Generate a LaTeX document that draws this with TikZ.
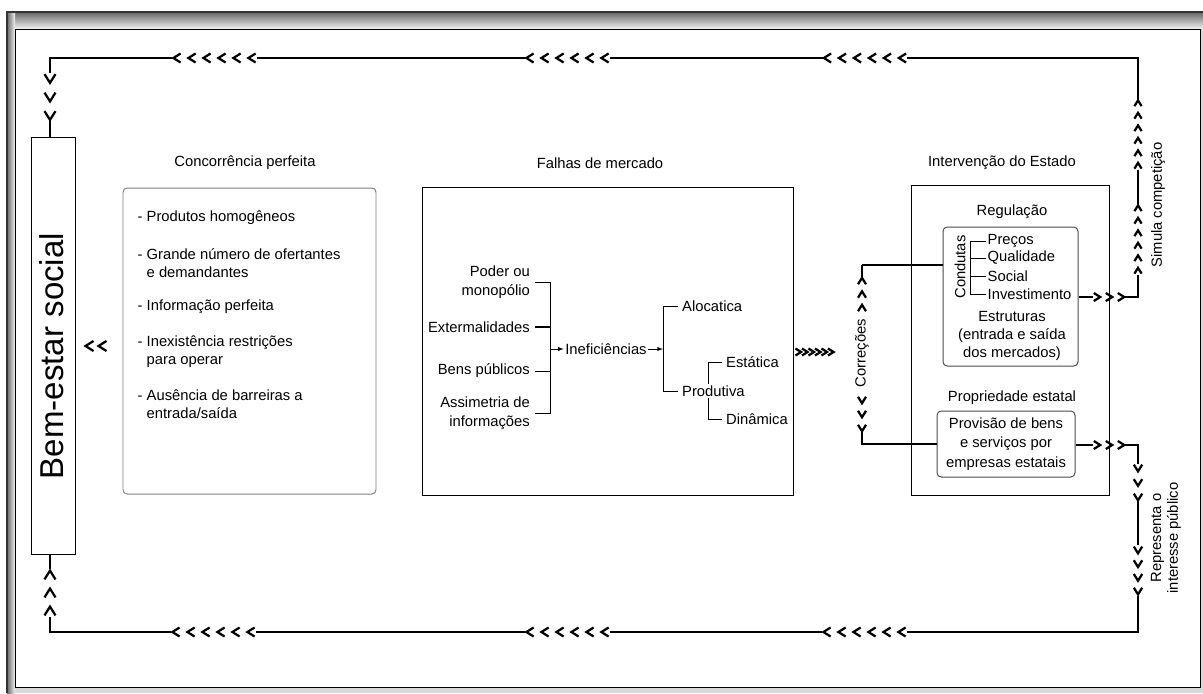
\documentclass[tikz,border=0pt]{standalone}
\usepackage{fontspec}
\setmainfont{Liberation Sans}
\tikzset{>=latex}
\newcommand{\pxu}{0.025cm}
\newcommand{\txtfont}{\fontsize{10.5}{12.8}\selectfont}
\tikzset{
    box/.style={draw, line width=0.7pt, inner sep=0pt},
    rbox/.style={box, draw=black!70, rounded corners=3pt},
    lbl/.style={inner sep=1pt, font=\txtfont},
    fl/.style={lbl, align=right, anchor=east, inner xsep=3.5pt,
        font=\fontsize{10.5}{13.7}\selectfont},
    fr/.style={lbl, anchor=west, inner xsep=2.8pt},
    chev/.style={line width=1.6pt, line join=miter},
    grp/.style={inner sep=0pt},
    link/.style={line width=0.8pt},
}
% row of chevrons: name, x, y, count, pitch, direction (1 = > , -1 = <), half size
\newcommand{\hchevs}[7]{
    \node[grp, minimum width={((#4-1)*#5+2*#7)*\pxu}, minimum height={2*#7*\pxu}] (#1) at (#2,#3) {};
    \foreach \k in {1,...,#4}
        \draw[chev] ({#2+(\k-(#4+1)/2)*#5-(#6)*0.8*#7},{#3-#7})
            -- ++({(#6)*1.6*#7},#7) -- ++({-(#6)*1.6*#7},#7);
}
% column of chevrons: name, x, y, count, pitch, direction (1 = v , -1 = ^), half size
\newcommand{\vchevs}[7]{
    \node[grp, minimum width={2*#7*\pxu}, minimum height={((#4-1)*#5+2*#7)*\pxu}] (#1) at (#2,#3) {};
    \foreach \k in {1,...,#4}
        \draw[chev] ({#2-#7},{#3+(\k-(#4+1)/2)*#5-(#6)*0.8*#7})
            -- ++(#7,{(#6)*1.6*#7}) -- ++(#7,{-(#6)*1.6*#7});
}

\begin{document}
\begin{tikzpicture}[x=\pxu, y=-\pxu]
    \useasboundingbox (0,0) rectangle (1203,693);
    % frame
    \shade[top color=black!60, bottom color=black!5] (7,12) rectangle (1203,29);
    \shade[left color=black!60, right color=black!5] (7,12) rectangle (15,693);
    \fill[black!15] (15,687) rectangle (1203,693);
    \fill[black!15] (1200,29) rectangle (1203,687);
    \draw[black!80, line width=1.2pt] (7,693) -- (7,12) -- (1203,12);
    \draw[line width=0.7pt, fill=white] (15,29) rectangle (1200,687);

    % bem-estar
    \node[box, minimum width=44*\pxu, minimum height=417*\pxu] (bem) at (53,345.5) {};
    \node[rotate=90, inner sep=0pt, font=\fontsize{23.5}{28}\selectfont] (bemtxt) at (52,356) {Bem-estar social};
    \hchevs{lt}{96}{346}{2}{13}{-1}{5}

    % concorrencia perfeita
    \node[lbl] (conct) at (245,163) {Concorrência perfeita};
    \node[rbox, draw=black!50, minimum width=253*\pxu, minimum height=306*\pxu] (conc) at (249.5,341) {};
    \node[lbl, anchor=west] (c1) at (136,218) {- Produtos homogêneos};
    \node[lbl, anchor=west, align=left] (c2) at (136,263) {- Grande número de ofertantes\\\hspace*{0.611em}e demandantes};
    \node[lbl, anchor=west] (c3) at (136,307) {- Informação perfeita};
    \node[lbl, anchor=west, align=left] (c4) at (136,352) {- Inexistência restrições\\\hspace*{0.611em}para operar};
    \node[lbl, anchor=west, align=left] (c5) at (136,404.5) {- Ausência de barreiras a\\\hspace*{0.611em}entrada/saída};

    % falhas de mercado
    \node[lbl] (falt) at (600,163) {Falhas de mercado};
    \node[box, minimum width=371*\pxu, minimum height=308*\pxu] (falhas) at (607.5,341) {};
    \node[fl] (poder) at (535,282) {Poder ou\\monopólio};
    \node[fl] (ext) at (535,327) {Extermalidades};
    \node[fl] (bens) at (535,371) {Bens públicos};
    \node[fl] (assim) at (535,413) {Assimetria de\\informações};
    \coordinate (fb) at (550,349);
    \draw (poder.east) -| (fb |- assim.east) -- (assim.east);
    \draw[line width=1.4pt] (ext.east) -- (ext.east -| fb);
    \draw (bens.east) -- (bens.east -| fb);
    \node[lbl] (inef) at (606,349) {Ineficiências};
    \draw[->] (fb) -- (inef.west);
    \coordinate (sb) at (663,349);
    \draw[->] (inef.east) -- (sb);
    \node[fr] (aloc) at (678,306) {Alocatica};
    \node[fr] (prod) at (678,391) {Produtiva};
    \draw (aloc.west) -| (sb |- prod.west) -- (prod.west);
    \coordinate (tb) at (708,391);
    \node[fr] (est) at (722,362) {Estática};
    \node[fr] (din) at (722,419) {Dinâmica};
    \draw (prod.north -| tb) |- (est.west);
    \draw (prod.south -| tb) |- (din.west);
    \hchevs{fg}{814.5}{352}{6}{6.5}{1}{3.5}

    % correcoes
    \node[lbl, rotate=90] (correc) at (862,353) {Correções};
    \vchevs{corup}{862}{294.5}{3}{13.5}{-1}{4}
    \vchevs{cordn}{862}{414}{3}{14}{1}{4}
    \coordinate (ccu) at (862,265);

    % intervencao do estado
    \node[lbl] (intt) at (1002,163) {Intervenção do Estado};
    \node[box, minimum width=198*\pxu, minimum height=310*\pxu] (interv) at (1010,340) {};
    \node[lbl] (regt) at (1012,212) {Regulação};
    \node[rbox, minimum width=135*\pxu, minimum height=139*\pxu] (reg) at (1010.5,296.5) {};
    \node[lbl, rotate=90] (cond) at (960,267) {Condutas};
    \coordinate (cb) at (970,241);
    \node[lbl, anchor=west] (precos) at (986,241) {Preços};
    \node[lbl, anchor=west] (qual) at (986,258) {Qualidade};
    \node[lbl, anchor=west] (social) at (986,276) {Social};
    \node[lbl, anchor=west] (invest) at (986,294) {Investimento};
    \draw (precos.west) -| (cb |- invest.west) -- (invest.west);
    \draw (qual.west) -- (qual.west -| cb);
    \draw (social.west) -- (social.west -| cb);
    \node[lbl, align=center] (estr) at (1012,336) {Estruturas\\(entrada e saída\\dos mercados)};
    \node[lbl] (propt) at (1012,398) {Propriedade estatal};
    \node[rbox, minimum width=138*\pxu, minimum height=66*\pxu, align=center,
        font=\fontsize{10.5}{13.9}\selectfont] (prov) at (1006,444)
        {Provisão de bens\\e serviços por\\empresas estatais};
    \hchevs{rg}{1109}{297}{3}{12}{1}{4}
    \hchevs{pg}{1109}{445}{3}{12}{1}{4}
    \draw[link] (ccu -| corup) -- (corup);
    \draw[link] (ccu -| reg.west) -- (ccu);
    \draw[link] (cordn) |- (prov.west);
    \draw[link] (reg.east |- rg) -- (rg);
    \draw[link] (prov.east |- pg) -- (pg);

    % right side
    \vchevs{rup1}{1138}{134.5}{6}{12.5}{-1}{3.6}
    \vchevs{rup2}{1138}{239.5}{6}{12.5}{-1}{3.6}
    \vchevs{rdn1}{1138}{482.5}{3}{14.5}{1}{4.2}
    \vchevs{rdn2}{1138}{570.5}{4}{13.7}{1}{4.2}
    \node[lbl, rotate=90] (simt) at (1158,205) {Simula competição};
    \node[lbl, rotate=90, align=center, font=\fontsize{10.5}{12}\selectfont] (rept) at (1166,538) {Representa o\\interesse público};

    % loop
    \hchevs{tl1}{214.5}{58}{6}{15}{-1}{4.5}
    \hchevs{tl2}{567.5}{58}{6}{15}{-1}{4.5}
    \hchevs{tl3}{865}{58}{6}{15}{-1}{4.5}
    \hchevs{bl1}{213.5}{632}{6}{15}{-1}{4.5}
    \hchevs{bl2}{567.5}{632}{6}{15}{-1}{4.5}
    \hchevs{bl3}{864.5}{632}{6}{15}{-1}{4.5}
    \vchevs{vtop}{50}{97}{3}{18.5}{1}{5.5}
    \vchevs{vbot}{50}{593}{3}{18}{-1}{5.5}

    \draw[link] (rg) -| (rup2);
    \draw[link] (rup2) -- (rup1);
    \draw[link] (rup1) |- (tl3);
    \draw[link] (tl3) -- (tl2);
    \draw[link] (tl2) -- (tl1);
    \draw[link] (tl1) -| (vtop);
    \draw[link] (vtop) -- (vtop |- bem.north);

    \draw[link] (pg) -| (rdn1);
    \draw[link] (rdn1) -- (rdn2);
    \draw[link] (rdn2) |- (bl3);
    \draw[link] (bl3) -- (bl2);
    \draw[link] (bl2) -- (bl1);
    \draw[link] (bl1) -| (vbot);
    \draw[link] (vbot) -- (vbot |- bem.south);
\end{tikzpicture}
\end{document}
